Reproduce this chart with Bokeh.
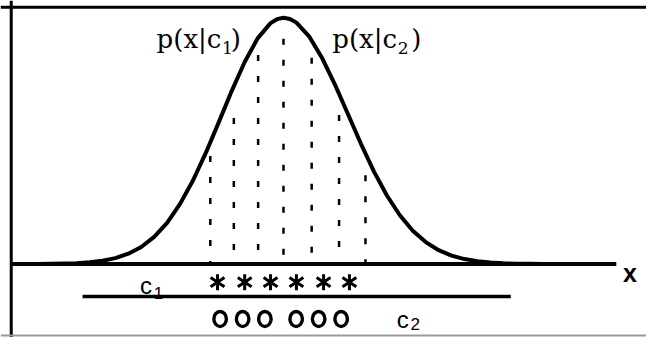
from bokeh.plotting import figure
from bokeh.models import Range1d, Span, Label
from bokeh.embed import file_html
from bokeh.resources import INLINE
import numpy as np

# ---- data (x in bin units, y relative density) ----
curve_x = [-10, -9.5, -9, -8.5, -8, -7.5, -7, -6.5, -6, -5.5, -5, -4.5, -4, -3.5, -3,
           -2.5, -2, -1.5, -1, -0.5, -0.25, 0, 0.25, 0.5, 1, 1.5, 2, 2.5, 3, 3.5, 4,
           4.5, 5, 5.5, 6, 6.5, 7, 7.5, 8, 8.5, 9, 9.5, 10]
curve_y = [0.0, 0.0003, 0.0008, 0.0017, 0.0035, 0.007, 0.013, 0.024, 0.042, 0.069, 0.110,
           0.167, 0.244, 0.339, 0.452, 0.576, 0.703, 0.820, 0.916, 0.978, 0.994, 1.0,
           0.995, 0.980, 0.923, 0.835, 0.726, 0.607, 0.487, 0.375, 0.278, 0.198, 0.135,
           0.089, 0.056, 0.034, 0.020, 0.011, 0.006, 0.003, 0.0015, 0.0007, 0.0003]

bin_edges_x = [-2.83, -1.92, -0.98, 0.0, 1.09, 2.15, 3.17]
bin_edges_top = [0.438, 0.593, 0.849, 0.915, 0.837, 0.605, 0.360]

class1_x = [-2.55, -1.5, -0.5, 0.5, 1.55, 2.55]
class1_y = [-0.074] * 6
class2_x = [-2.45, -1.58, -0.72, 0.49, 1.36, 2.23]
class2_y = [-0.223] * 6

axis_x = [-10.49, 12.87]
axis_y = [0.0, 0.0]
divider_x = [-7.77, 8.79]
divider_y = [-0.132, -0.132]

p = figure(width=646, height=337, output_backend="svg", toolbar_location=None,
           x_range=Range1d(-10.943, 14.038), y_range=Range1d(-0.2984, 1.0698),
           x_axis_location=None, y_axis_location=None, min_border=0,
           background_fill_color="white", border_fill_color="white")
p.grid.visible = False
p.outline_line_color = None

# box border (top, left) and faint bottom edge
p.add_layout(Span(location=1.0426, dimension="width", line_color="black", line_width=3))
p.add_layout(Span(location=-10.528, dimension="height", line_color="black", line_width=3))
p.add_layout(Span(location=-0.2907, dimension="width", line_color="#9a9a9a", line_width=2))

# baseline axis and divider line
p.line(axis_x, axis_y, line_color="black", line_width=4)
p.line(divider_x, divider_y, line_color="black", line_width=3.5)

# dotted bin edges (drawn from the top down)
p.segment(x0=bin_edges_x, y0=bin_edges_top, x1=bin_edges_x, y1=[0] * len(bin_edges_x),
          line_color="black", line_width=2.5, line_dash="6 15")

# gaussian curve
p.line(curve_x, curve_y, line_color="black", line_width=4, line_join="round")

# class 1 samples: six-spoke asterisks
p.scatter(class1_x, class1_y, marker="y", size=16, line_color="black", line_width=3)
p.scatter(class1_x, class1_y, marker="y", angle=np.pi, size=16, line_color="black",
          line_width=3)

# class 2 samples: open ovals
p.ellipse(class2_x, class2_y, width=12.5, height=15, width_units="screen",
          height_units="screen", fill_color=None, line_color="black", line_width=3.4)

# labels
serif = "DejaVu Serif"
sans = "Liberation Sans"


def lab(x, y, t, font, size, style="normal", align="left"):
    p.add_layout(Label(x=x, y=y, text=t, text_font=font, text_font_size=size,
                       text_font_style=style, text_align=align,
                       text_baseline="alphabetic", text_color="black"))


lab(-4.906, 0.9147, "p(x|c", serif, "26px")
lab(-2.377, 0.876, "1", serif, "17px")
lab(-2.038, 0.9147, ")", serif, "26px")

lab(1.887, 0.9147, "p(x|c", serif, "26px")
lab(4.415, 0.876, "2", serif, "17px")
lab(4.943, 0.9147, ")", serif, "26px")

lab(-5.55, -0.0853, "c", sans, "24px")
lab(-5.02, -0.1163, "1", sans, "17px")
lab(4.38, -0.224, "c", sans, "24px")
lab(4.91, -0.244, "2", sans, "17px")

lab(13.40, -0.0349, "x", sans, "25px", style="bold", align="center")

open("out.html", "w").write(file_html(p, INLINE))
